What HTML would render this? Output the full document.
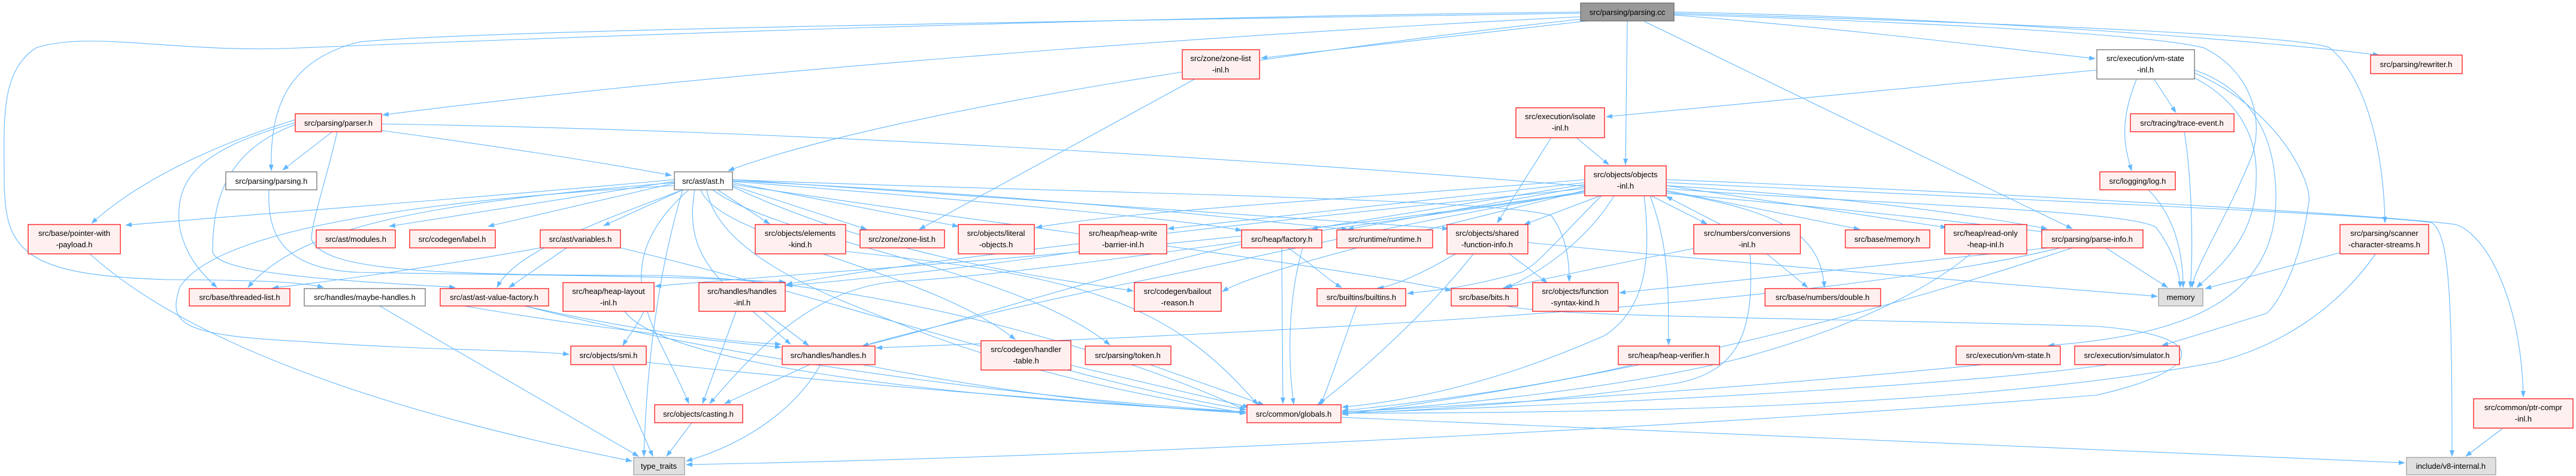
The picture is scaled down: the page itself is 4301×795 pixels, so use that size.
<!DOCTYPE html>
<html><head><meta charset="utf-8"><style>
html,body{margin:0;padding:0;background:#fff;}
svg{display:block;}
text{font-family:"Liberation Sans",sans-serif;font-size:13px;fill:#000;text-anchor:middle;}
.e{fill:none;stroke:#63b8ff;stroke-width:1.1;}
.r{fill:#fff0f0;stroke:#ff0000;stroke-width:1.2;}
.w{fill:#fff;stroke:#666;stroke-width:1.2;}
.g{fill:#e0e0e0;stroke:#999;stroke-width:1.2;}
.d{fill:#999;stroke:#666;stroke-width:1.2;}
</style></head><body>
<svg width="4301" height="795" viewBox="0 0 4301 795" xmlns="http://www.w3.org/2000/svg">
<defs><marker id="a" markerWidth="11" markerHeight="8" refX="10" refY="4" orient="auto" markerUnits="userSpaceOnUse"><path d="M0,0 L11,4 L0,8 z" fill="#63b8ff"/></marker></defs>
<g class="e" marker-end="url(#a)">
<path d="M2639,28 C2000,60 1200,120 639,192"/>
<path d="M2639,22 C1800,35 800,50 600,70 C480,100 450,180 453,285"/>
<path d="M2639,20 C1800,30 1000,60 500,80 C300,90 150,50 60,80 C0,120 7,200 7,300 C7,420 40,460 280,467 C420,468 500,470 540,480"/>
<path d="M2639,32 C2200,80 1500,180 1216,285"/>
<path d="M2650,35 L2106,97"/>
<path d="M2717,35 L2714,275"/>
<path d="M2795,25 C3100,50 3300,75 3498,98"/>
<path d="M2746,36 L3460,382"/>
<path d="M2795,20 C3300,30 3800,70 3972,92"/>
<path d="M2795,22 C3400,40 3850,60 3890,80 C3950,130 3980,250 3982,372"/>
<path d="M2795,24 C3300,40 3600,60 3680,80 C3760,120 3780,200 3760,260 C3720,360 3662,450 3660,480"/>
<path d="M3501,117 L2682,195"/>
<path d="M3597,133 L3633,188"/>
<path d="M3567,133 C3540,200 3545,240 3559,285"/>
<path d="M3664,130 C3740,170 3770,230 3767,300 C3767,400 3700,450 3668,480"/>
<path d="M3664,117 C3760,150 3800,230 3800,330 C3800,500 3650,560 3420,577"/>
<path d="M3664,122 C3800,180 3860,300 3855,337 C3840,450 3800,510 3785,523 C3700,550 3650,565 3610,577"/>
<path d="M3647,220 C3660,300 3662,420 3657,480"/>
<path d="M3587,317 C3630,360 3645,420 3645,480"/>
<path d="M3516,414 L3619,480"/>
<path d="M3907,422 L3682,482"/>
<path d="M3967,423 C3900,520 3800,580 3700,605 C3300,680 2700,690 2241,690"/>
<path d="M4178,716 L4117,762"/>
<path d="M2782,300 C3300,320 4000,360 4100,375 C4150,390 4210,500 4213,663"/>
<path d="M2782,305 C3300,330 4000,360 4060,372 C4090,390 4094,500 4094,762"/>
<path d="M2239,697 C3000,730 3600,760 4015,773"/>
<path d="M3460,414 C3200,500 2800,620 2241,692"/>
<path d="M3420,414 L2704,489"/>
<path d="M3440,414 C3000,520 2000,560 1463,581"/>
<path d="M2782,310 C3100,330 3300,360 3418,382"/>
<path d="M2782,315 C3100,340 3560,350 3600,380 C3630,420 3640,460 3640,480"/>
<path d="M2782,310 L3250,380"/>
<path d="M2782,318 L3105,383"/>
<path d="M2782,320 C2950,350 3040,380 3046,480"/>
<path d="M2757,327 L2850,374"/>
<path d="M2873,375 L2782,328"/>
<path d="M2950,424 L3018,480"/>
<path d="M2828,415 C2700,440 2560,470 2510,481"/>
<path d="M2922,424 C2930,560 2900,620 2800,640 C2600,670 2400,685 2241,690"/>
<path d="M2672,327 L2545,375"/>
<path d="M2632,230 L2686,275"/>
<path d="M2590,230 L2500,372"/>
<path d="M2674,327 C2600,400 2570,440 2540,455 C2450,480 2400,485 2350,490"/>
<path d="M2695,327 C2650,400 2580,450 2515,481"/>
<path d="M2520,424 L2583,472"/>
<path d="M1223,300 C1700,320 2500,330 2590,360 C2620,400 2620,450 2620,470"/>
<path d="M2755,327 C2790,420 2785,500 2786,576"/>
<path d="M2745,327 C2760,450 2740,520 2680,560 C2500,640 2350,670 2241,680"/>
<path d="M2460,424 C2400,500 2300,600 2200,676"/>
<path d="M2430,424 C2370,460 2320,480 2300,481"/>
<path d="M2551,405 C2900,440 3300,470 3602,495"/>
<path d="M2265,511 C2240,580 2220,640 2205,676"/>
<path d="M2515,511 C2600,530 3000,530 3500,545 C3700,560 3680,620 3500,660 C3000,700 2000,760 1146,776"/>
<path d="M2727,609 C2600,640 2400,670 2241,686"/>
<path d="M3310,609 C3000,640 2600,670 2241,688"/>
<path d="M3520,609 C3300,640 2800,670 2241,690"/>
<path d="M3290,424 C3200,500 3050,560 2900,600 C2700,650 2400,680 2241,688"/>
<path d="M2140,414 L2142,674"/>
<path d="M2150,414 C2190,440 2220,470 2240,480"/>
<path d="M2175,414 C2150,500 2150,600 2160,675"/>
<path d="M2072,408 C1800,470 1600,540 1440,578"/>
<path d="M1802,420 C1600,450 1400,470 1313,477"/>
<path d="M1275,520 L1350,577"/>
<path d="M1229,520 L1173,674"/>
<path d="M1352,609 L1210,674"/>
<path d="M1370,609 C1330,680 1250,740 1146,770"/>
<path d="M1440,609 C1700,660 1900,680 2080,690"/>
<path d="M775,511 C1000,550 1200,570 1304,580"/>
<path d="M634,511 L1066,762"/>
<path d="M876,511 C1050,550 1200,570 1304,575"/>
<path d="M876,511 C1300,620 1800,670 2080,688"/>
<path d="M1092,480 C1070,540 1050,560 1040,577"/>
<path d="M1043,520 C1100,600 1500,660 2080,688"/>
<path d="M1023,609 L1090,762"/>
<path d="M1079,605 C1500,650 1800,670 2080,690"/>
<path d="M1155,706 L1113,762"/>
<path d="M150,424 C300,560 600,680 1055,770"/>
<path d="M902,414 C700,450 550,470 455,481"/>
<path d="M946,414 L850,480"/>
<path d="M1036,414 C1400,500 1800,640 2080,684"/>
<path d="M1788,610 L2085,680"/>
<path d="M1920,609 L2110,676"/>
<path d="M1412,420 C1800,460 1950,500 2100,676"/>
<path d="M2646,300 C2300,330 1900,350 1730,380"/>
<path d="M2646,305 L1950,382"/>
<path d="M2646,308 L2190,382"/>
<path d="M2646,312 L2250,383"/>
<path d="M2646,315 C2000,380 1500,440 1313,475"/>
<path d="M2646,318 C2400,380 2100,450 2041,487"/>
<path d="M2646,320 C2300,380 2100,430 1900,470 C1700,510 1500,560 1440,578"/>
<path d="M2646,322 C2100,400 1700,460 1500,470 C1350,480 1250,600 1185,674"/>
<path d="M2646,320 C2000,420 1400,450 1094,478"/>
<path d="M1126,300 C800,330 400,360 210,376"/>
<path d="M1126,305 C700,340 500,380 414,480"/>
<path d="M1126,310 C600,340 350,400 300,480 C280,540 300,560 500,570 C700,585 900,585 950,592"/>
<path d="M1126,303 L650,378"/>
<path d="M1126,306 L815,378"/>
<path d="M1140,317 L1008,377"/>
<path d="M1140,317 C1000,370 860,420 830,480"/>
<path d="M1198,317 L1285,374"/>
<path d="M1223,310 L1447,383"/>
<path d="M1223,305 L1600,378"/>
<path d="M1223,303 C1700,340 2000,370 2073,385"/>
<path d="M1223,302 C1800,330 2100,370 2250,383"/>
<path d="M1223,300 L2418,382"/>
<path d="M1180,317 C1200,430 1400,500 1500,540 C1700,620 1900,660 2080,690"/>
<path d="M1160,317 C1140,430 1200,470 1320,575"/>
<path d="M1170,317 C1200,400 1550,450 1695,567"/>
<path d="M1190,317 C1300,400 1700,450 1853,576"/>
<path d="M1140,317 C1100,450 1080,600 1075,762"/>
<path d="M1223,308 C1700,380 2200,440 2423,485"/>
<path d="M1223,312 C1500,440 1800,470 1892,486"/>
<path d="M1150,317 C1000,450 1100,550 1150,674"/>
<path d="M1995,132 L1535,383"/>
<path d="M555,220 L472,284"/>
<path d="M493,200 C300,260 200,330 153,373"/>
<path d="M493,205 C330,250 290,300 300,380 C310,430 340,460 362,480"/>
<path d="M493,208 C380,250 355,330 355,420 C360,460 600,470 760,480"/>
<path d="M563,220 C545,300 520,370 520,400 C540,450 700,460 1100,460 C1500,470 1900,600 2080,685"/>
<path d="M637,207 C1500,220 2700,300 3418,388"/>
<path d="M637,218 C800,240 1000,270 1121,293"/>
<path d="M449,317 C445,400 480,450 600,455 C900,460 1100,460 1311,471"/>
</g>
<g>
<rect class="d" x="2639" y="5" width="156" height="30"/><text x="2717" y="25">src/parsing/parsing.cc</text>
<rect class="r" x="493" y="190" width="144" height="30"/><text x="565" y="210">src/parsing/parser.h</text>
<rect class="w" x="377" y="287" width="152" height="30"/><text x="453" y="307">src/parsing/parsing.h</text>
<rect class="r" x="47" y="375" width="154" height="49"/><text x="124" y="394">src/base/pointer-with</text><text x="124" y="413">-payload.h</text>
<rect class="r" x="528" y="384" width="132" height="30"/><text x="594" y="404">src/ast/modules.h</text>
<rect class="r" x="684" y="384" width="143" height="30"/><text x="755" y="404">src/codegen/label.h</text>
<rect class="r" x="902" y="384" width="134" height="30"/><text x="969" y="404">src/ast/variables.h</text>
<rect class="r" x="316" y="482" width="168" height="29"/><text x="400" y="501">src/base/threaded-list.h</text>
<rect class="w" x="508" y="482" width="202" height="29"/><text x="609" y="501">src/handles/maybe-handles.h</text>
<rect class="r" x="735" y="482" width="181" height="29"/><text x="825" y="501">src/ast/ast-value-factory.h</text>
<rect class="r" x="940" y="472" width="152" height="48"/><text x="1016" y="491">src/heap/heap-layout</text><text x="1016" y="510">-inl.h</text>
<rect class="r" x="953" y="578" width="126" height="31"/><text x="1016" y="598">src/objects/smi.h</text>
<rect class="g" x="1058" y="764" width="85" height="29"/><text x="1100" y="783">type_traits</text>
<rect class="r" x="1974" y="83" width="129" height="49"/><text x="2038" y="102">src/zone/zone-list</text><text x="2038" y="121">-inl.h</text>
<rect class="w" x="1126" y="287" width="97" height="30"/><text x="1174" y="307">src/ast/ast.h</text>
<rect class="r" x="1261" y="375" width="151" height="49"/><text x="1336" y="394">src/objects/elements</text><text x="1336" y="413">-kind.h</text>
<rect class="r" x="1436" y="384" width="141" height="30"/><text x="1506" y="404">src/zone/zone-list.h</text>
<rect class="r" x="1600" y="375" width="127" height="49"/><text x="1663" y="394">src/objects/literal</text><text x="1663" y="413">-objects.h</text>
<rect class="r" x="1802" y="375" width="146" height="49"/><text x="1875" y="394">src/heap/heap-write</text><text x="1875" y="413">-barrier-inl.h</text>
<rect class="r" x="2073" y="384" width="134" height="30"/><text x="2140" y="404">src/heap/factory.h</text>
<rect class="r" x="1167" y="472" width="144" height="48"/><text x="1239" y="491">src/handles/handles</text><text x="1239" y="510">-inl.h</text>
<rect class="r" x="1894" y="472" width="145" height="48"/><text x="1966" y="491">src/codegen/bailout</text><text x="1966" y="510">-reason.h</text>
<rect class="r" x="1306" y="578" width="155" height="31"/><text x="1383" y="598">src/handles/handles.h</text>
<rect class="r" x="1638" y="569" width="150" height="49"/><text x="1713" y="588">src/codegen/handler</text><text x="1713" y="607">-table.h</text>
<rect class="r" x="1812" y="578" width="143" height="31"/><text x="1883" y="598">src/parsing/token.h</text>
<rect class="r" x="1093" y="676" width="147" height="30"/><text x="1166" y="696">src/objects/casting.h</text>
<rect class="r" x="2082" y="676" width="157" height="30"/><text x="2160" y="696">src/common/globals.h</text>
<rect class="r" x="2531" y="180" width="148" height="50"/><text x="2605" y="199">src/execution/isolate</text><text x="2605" y="218">-inl.h</text>
<rect class="r" x="2646" y="277" width="136" height="50"/><text x="2714" y="296">src/objects/objects</text><text x="2714" y="315">-inl.h</text>
<rect class="r" x="2232" y="384" width="160" height="30"/><text x="2312" y="404">src/runtime/runtime.h</text>
<rect class="r" x="2416" y="375" width="135" height="49"/><text x="2483" y="394">src/objects/shared</text><text x="2483" y="413">-function-info.h</text>
<rect class="r" x="2828" y="375" width="178" height="49"/><text x="2917" y="394">src/numbers/conversions</text><text x="2917" y="413">-inl.h</text>
<rect class="r" x="3081" y="384" width="141" height="30"/><text x="3151" y="404">src/base/memory.h</text>
<rect class="r" x="3247" y="375" width="137" height="49"/><text x="3315" y="394">src/heap/read-only</text><text x="3315" y="413">-heap-inl.h</text>
<rect class="r" x="2199" y="482" width="148" height="29"/><text x="2273" y="501">src/builtins/builtins.h</text>
<rect class="r" x="2423" y="482" width="111" height="29"/><text x="2478" y="501">src/base/bits.h</text>
<rect class="r" x="2559" y="472" width="143" height="48"/><text x="2630" y="491">src/objects/function</text><text x="2630" y="510">-syntax-kind.h</text>
<rect class="r" x="2947" y="482" width="193" height="29"/><text x="3043" y="501">src/base/numbers/double.h</text>
<rect class="r" x="2702" y="578" width="169" height="31"/><text x="2786" y="598">src/heap/heap-verifier.h</text>
<rect class="r" x="3266" y="578" width="174" height="31"/><text x="3353" y="598">src/execution/vm-state.h</text>
<rect class="w" x="3501" y="83" width="163" height="49"/><text x="3582" y="102">src/execution/vm-state</text><text x="3582" y="121">-inl.h</text>
<rect class="r" x="3958" y="92" width="153" height="31"/><text x="4034" y="112">src/parsing/rewriter.h</text>
<rect class="r" x="3557" y="190" width="173" height="30"/><text x="3643" y="210">src/tracing/trace-event.h</text>
<rect class="r" x="3506" y="287" width="126" height="30"/><text x="3569" y="307">src/logging/log.h</text>
<rect class="r" x="3409" y="384" width="169" height="30"/><text x="3493" y="404">src/parsing/parse-info.h</text>
<rect class="r" x="3907" y="375" width="148" height="49"/><text x="3981" y="394">src/parsing/scanner</text><text x="3981" y="413">-character-streams.h</text>
<rect class="g" x="3604" y="482" width="74" height="29"/><text x="3641" y="501">memory</text>
<rect class="r" x="3464" y="578" width="175" height="31"/><text x="3551" y="598">src/execution/simulator.h</text>
<rect class="r" x="4130" y="666" width="166" height="49"/><text x="4213" y="685">src/common/ptr-compr</text><text x="4213" y="704">-inl.h</text>
<rect class="g" x="4018" y="764" width="149" height="29"/><text x="4092" y="783">include/v8-internal.h</text>
</g>
</svg>
</body></html>
